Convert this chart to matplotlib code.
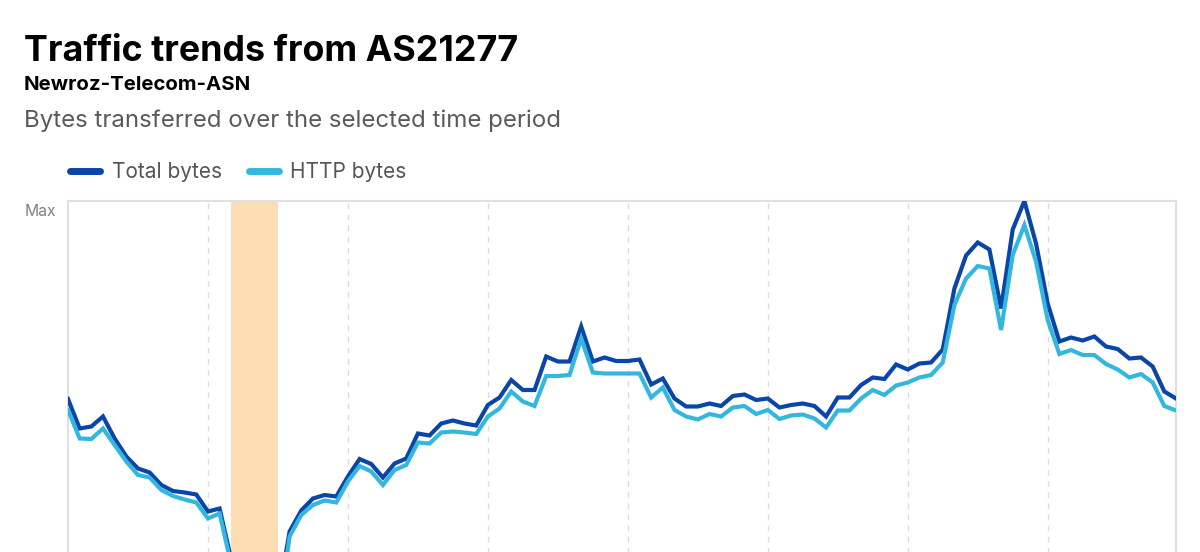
import matplotlib
matplotlib.use("Agg")
import matplotlib.pyplot as plt
from matplotlib.lines import Line2D

# ============ Dataset (share of max, 2-hour steps) ============
total_bytes = [60.4, 54.5, 54.9, 56.9, 52.5, 48.9, 46.5, 45.7, 43.2, 42.0, 41.7, 41.3, 37.9, 38.5,
               28.2, 4.2, 2.2, 3.2, 20.2, 33.9, 38.1, 40.5, 41.2, 40.9, 44.9, 48.4, 47.4, 44.7,
               47.5, 48.5, 53.5, 53.1, 55.5, 56.1, 55.5, 55.1, 59.2, 60.7, 64.2, 62.2, 62.2, 68.9,
               67.9, 67.9, 74.9, 67.9, 68.7, 68.0, 68.0, 68.3, 63.3, 64.5, 60.5, 58.9, 58.9, 59.5,
               59.0, 61.0, 61.3, 60.2, 60.5, 58.7, 59.2, 59.5, 59.0, 56.9, 60.7, 60.7, 63.2, 64.7,
               64.4, 67.3, 66.3, 67.5, 67.7, 70.3, 82.5, 89.1, 91.7, 90.3, 78.5, 94.3, 100.0, 91.5,
               79.5, 71.9, 72.7, 72.1, 72.9, 70.9, 70.4, 68.5, 68.7, 66.9, 61.9, 60.5]

http_bytes = [58.2, 52.5, 52.4, 54.5, 51.2, 47.9, 45.2, 44.7, 42.2, 41.0, 40.3, 39.7, 36.5, 37.5,
              27.2, 3.2, 1.6, 2.2, 16.2, 32.9, 37.2, 39.2, 40.1, 39.7, 43.9, 47.0, 45.9, 43.2,
              46.2, 47.2, 51.7, 51.5, 53.7, 53.9, 53.7, 53.4, 56.9, 58.5, 61.9, 59.9, 59.0, 65.0,
              65.0, 65.2, 72.5, 65.7, 65.5, 65.5, 65.5, 65.5, 60.7, 62.7, 58.2, 56.9, 56.3, 57.4,
              56.9, 58.7, 59.0, 57.4, 58.2, 56.4, 57.1, 57.3, 56.5, 54.7, 58.1, 58.1, 60.5, 62.2,
              61.2, 63.1, 63.7, 64.7, 65.2, 67.7, 79.2, 84.5, 87.0, 86.5, 74.2, 89.2, 95.2, 87.9,
              76.2, 69.4, 70.2, 69.2, 69.2, 67.4, 66.3, 64.7, 65.4, 63.7, 59.0, 58.1]

day_marks = [12, 24, 36, 48, 60, 72, 84]
outage_span = (14, 18)

DARK = '#0A45A8'
LIGHT = '#33B7DF'
FONT = 'Inter'

plt.rcParams['font.family'] = FONT

fig = plt.figure(figsize=(12, 5.52), dpi=100)
# plot area runs past the bottom of the picture (cropped chart)
ax = fig.add_axes([68 / 1200, -149 / 552, 1108 / 1200, 500 / 552])

x = list(range(len(total_bytes)))

# ============ Outage band & grid ============
ax.axvspan(outage_span[0], outage_span[1], color='#FDDDB4', lw=0, zorder=1)
for d in day_marks:
    ax.axvline(d, color='#DCDCDC', lw=1, ls=(0, (4, 4)), zorder=0)

# ============ Lines ============
ax.plot(x, total_bytes, color=DARK, lw=3, solid_joinstyle='miter', zorder=3)
ax.plot(x, http_bytes, color=LIGHT, lw=3, solid_joinstyle='miter', zorder=4)

ax.set_xlim(0, len(x) - 1)
ax.set_ylim(0, 100)
ax.set_xticks([])
ax.set_yticks([])

for side in ['left', 'top', 'right']:
    ax.spines[side].set_color('#E0E0E0')
    ax.spines[side].set_linewidth(1.5)
ax.spines['bottom'].set_visible(False)

# "Max" label sits just under the top edge, left of the frame
fig.text(56 / 1200, 1 - 216.5 / 552, 'Max', fontsize=11.3, color='#808080',
         ha='right', va='baseline')

# ============ Titles ============
fig.text(24 / 1200, 1 - 61 / 552, 'Traffic trends from AS21277', fontsize=25.8,
         fontweight='bold', color='black', va='baseline')
fig.text(24 / 1200, 1 - 89.5 / 552, 'Newroz-Telecom-ASN', fontsize=14.7,
         fontweight='bold', color='black', va='baseline')
fig.text(24 / 1200, 1 - 127 / 552, 'Bytes transferred over the selected time period',
         fontsize=17.3, color='#5A5A5A', va='baseline')

# ============ Legend ============
handles = [Line2D([], [], color=DARK, lw=5, solid_capstyle='round'),
           Line2D([], [], color=LIGHT, lw=5, solid_capstyle='round')]
leg = fig.legend(handles, ['Total bytes', 'HTTP bytes'], loc='center left',
                 bbox_to_anchor=(70 / 1200, 1 - 172 / 552), ncol=2, frameon=False,
                 fontsize=15, handlelength=1.45, handletextpad=0.55, columnspacing=1.3,
                 borderpad=0, borderaxespad=0)
for t in leg.get_texts():
    t.set_color('#555555')

fig.savefig('out.png', dpi=100)
